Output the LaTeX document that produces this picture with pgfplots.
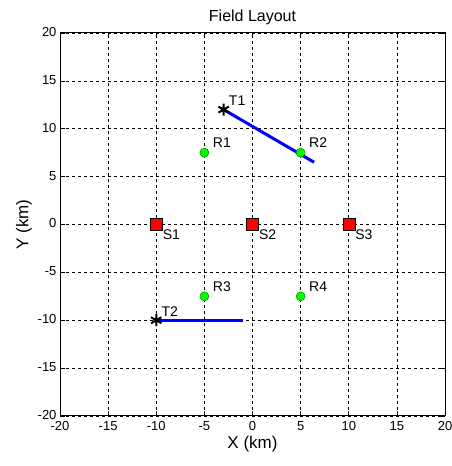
\documentclass[border=0pt]{standalone}
\usepackage{fontspec}
\setmainfont{Liberation Sans}
\usepackage{pgfplots}
\pgfplotsset{compat=1.18}
\usetikzlibrary{calc}
\begin{document}
\begin{tikzpicture}
\begin{axis}[name=ax, width=385pt, height=383pt, scale only axis,
  xmin=-20, xmax=20, ymin=-20, ymax=20,
  xtick distance=5, ytick distance=5,
  grid=major, major grid style={black, dash pattern=on 3pt off 3pt, line width=0.6pt},
  tick align=inside, major tick length=5pt, tick style={black, line width=0.6pt},
  ticklabel style={font=\fontsize{13}{15}\selectfont},
  xticklabel style={yshift=-2pt},
  yticklabel style={yshift=1pt},
  /pgf/number format/assume math mode=true,
  title={Field Layout}, title style={font=\fontsize{16}{19}\selectfont, yshift=-1pt},
  xlabel={X (km)}, ylabel={Y (km)},
  label style={font=\fontsize{17}{20}\selectfont},
  xlabel style={yshift=1pt}, ylabel style={yshift=-1pt},
  axis line style={line width=1pt},
  clip=false,
  nodes near coords, point meta=explicit symbolic,
  nodes near coords style={font=\fontsize{14}{16}\selectfont, anchor=west},
]
\addplot[blue, line width=3pt, nodes near coords=] coordinates {(-3,12) (6.4,6.5)};
\addplot[blue, line width=3pt, nodes near coords=] coordinates {(-10,-10) (-1,-10)};
\addplot[only marks, mark=square*, mark size=6pt, mark options={fill=red, draw=black, line width=0.5pt},
  nodes near coords style={xshift=3pt, yshift=-10pt}]
  coordinates {(-10,0) [S1] (0,0) [S2] (10,0) [S3]};
\addplot[only marks, mark=*, mark size=4.5pt, mark options={fill=green, draw=green!50!black, line width=0.5pt},
  nodes near coords style={xshift=5pt, yshift=10pt}]
  coordinates {(-5,7.5) [R1] (5,7.5) [R2] (-5,-7.5) [R3] (5,-7.5) [R4]};
\addplot[only marks, mark=asterisk, mark size=6pt, mark options={black, line width=2pt},
  nodes near coords style={xshift=1pt, yshift=9pt}]
  coordinates {(-3,12) [T1] (-10,-10) [T2]};
\end{axis}
\pgfresetboundingbox
\path ($(ax.south west)+(-60pt,-50pt)$) rectangle ($(ax.north east)+(6pt,33pt)$);
\end{tikzpicture}
\end{document}
